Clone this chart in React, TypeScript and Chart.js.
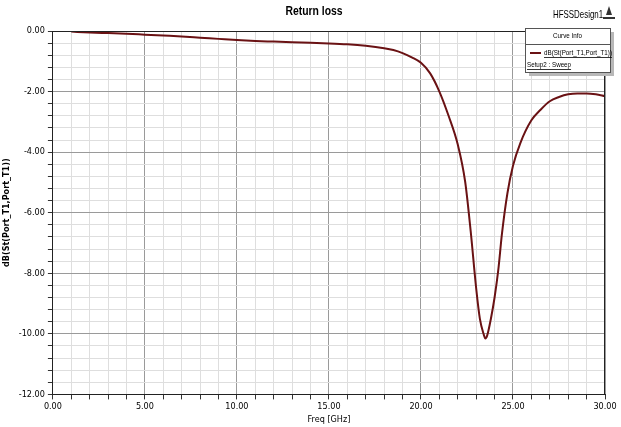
import React, { useEffect, useRef } from "react";
import { Chart, registerables } from "chart.js";

Chart.register(...registerables);

const freqGHz = [1, 2, 3, 4, 5, 6, 7, 8, 9, 10, 11, 12, 13, 14, 15, 16, 17, 18, 18.5, 19, 19.5, 20, 20.5, 21, 21.5, 22, 22.4, 22.7, 23, 23.2, 23.4, 23.5, 23.6, 23.8, 24, 24.2, 24.4, 24.7, 25, 25.4, 26, 26.5, 27, 27.5, 28, 28.5, 29, 29.5, 30];
const returnLossDb = [-0.02, -0.05, -0.07, -0.09, -0.12, -0.15, -0.18, -0.22, -0.26, -0.3, -0.33, -0.35, -0.37, -0.39, -0.41, -0.44, -0.49, -0.57, -0.63, -0.73, -0.87, -1.05, -1.4, -2.0, -2.8, -3.75, -4.97, -6.6, -8.5, -9.5, -10.0, -10.15, -10.05, -9.5, -8.8, -7.9, -6.7, -5.35, -4.45, -3.7, -2.95, -2.6, -2.32, -2.18, -2.09, -2.06, -2.06, -2.09, -2.15];

const chartTitle = "Return loss";
const designName = "HFSSDesign1";
const legendHeader = "Curve Info";
const seriesName = "dB(St(Port_T1,Port_T1))";
const setupName = "Setup2 : Sweep";
const xTitle = "Freq [GHz]";
const yTitle = "dB(St(Port_T1,Port_T1))";

const FONT = "'DejaVu Sans Condensed', 'Liberation Sans Narrow', 'Liberation Sans', Arial, sans-serif";
const OFONT = "'Liberation Sans', Arial, sans-serif";
const LINE_COLOR = "#6a1214";

const isMult = (v: number, m: number) => Math.abs(v / m - Math.round(v / m)) < 1e-6;

function narrowText(ctx: CanvasRenderingContext2D, text: string, x: number, y: number, align: "left" | "center", sx = 0.78) {
  ctx.save();
  ctx.translate(x, y);
  ctx.scale(sx, 1);
  ctx.textAlign = align;
  ctx.fillText(text, 0, 0);
  const w = ctx.measureText(text).width * sx;
  ctx.restore();
  return w;
}

export default function App() {
  const ref = useRef<HTMLCanvasElement | null>(null);

  useEffect(() => {
    document.body.style.margin = "0";
    const canvas = ref.current;
    if (!canvas) return;

    const overlay = {
      id: "overlay",
      afterDraw(chart: any) {
        const { ctx, chartArea } = chart;
        const { left, right, top, bottom } = chartArea;
        ctx.save();
        ctx.strokeStyle = "#222";
        ctx.lineWidth = 1;
        ctx.beginPath();
        ctx.moveTo(left, top + 0.5);
        ctx.lineTo(right, top + 0.5);
        ctx.moveTo(right - 0.5, top);
        ctx.lineTo(right - 0.5, bottom);
        ctx.stroke();

        ctx.fillStyle = "#000";
        ctx.textBaseline = "middle";
        ctx.font = `bold 13px ${OFONT}`;
        narrowText(ctx, chartTitle, 314, 11, "center", 0.8);

        ctx.font = `11px ${OFONT}`;
        narrowText(ctx, designName, 553, 15, "left", 0.72);

        // logo
        ctx.fillStyle = "#333";
        ctx.beginPath();
        ctx.moveTo(609, 6);
        ctx.lineTo(606, 15);
        ctx.lineTo(612, 15);
        ctx.closePath();
        ctx.fill();
        ctx.fillRect(603, 17, 12, 2);

        const bx = 525, by = 28, bw = 85, bh = 44;
        ctx.fillStyle = "#b8b8b8";
        ctx.fillRect(bx + 4, by + 4, bw, bh);
        ctx.fillStyle = "#fff";
        ctx.fillRect(bx, by, bw, bh);
        ctx.strokeStyle = "#555";
        ctx.strokeRect(bx + 0.5, by + 0.5, bw, bh);
        ctx.beginPath();
        ctx.moveTo(bx, by + 16.5);
        ctx.lineTo(bx + bw, by + 16.5);
        ctx.stroke();

        ctx.fillStyle = "#000";
        ctx.font = `8px ${OFONT}`;
        narrowText(ctx, legendHeader, bx + bw / 2, by + 8, "center");

        ctx.strokeStyle = LINE_COLOR;
        ctx.lineWidth = 2;
        ctx.beginPath();
        ctx.moveTo(bx + 5, by + 25);
        ctx.lineTo(bx + 16, by + 25);
        ctx.stroke();

        ctx.fillStyle = "#000";
        const t1x = bx + 19;
        const w1 = narrowText(ctx, seriesName, t1x, by + 25, "left");
        const w2 = narrowText(ctx, setupName, bx + 2, by + 37, "left");
        ctx.strokeStyle = "#000";
        ctx.lineWidth = 0.8;
        ctx.beginPath();
        ctx.moveTo(t1x, by + 29.5);
        ctx.lineTo(t1x + w1, by + 29.5);
        ctx.moveTo(bx + 2, by + 41.5);
        ctx.lineTo(bx + 2 + w2, by + 41.5);
        ctx.stroke();
        ctx.restore();
      },
    };

    const chart = new Chart(canvas, {
      type: "line",
      data: {
        datasets: [
          {
            label: seriesName,
            data: freqGHz.map((f, i) => ({ x: f, y: returnLossDb[i] })),
            borderColor: LINE_COLOR,
            borderWidth: 2,
            pointRadius: 0,
            cubicInterpolationMode: "monotone",
            fill: false,
          },
        ],
      },
      options: {
        animation: false,
        responsive: false,
        maintainAspectRatio: false,
        layout: { padding: { top: 31, right: 16, left: 1, bottom: 2 } },
        plugins: {
          legend: { display: false },
          title: { display: false },
          tooltip: { enabled: false },
        },
        scales: {
          x: {
            type: "linear",
            min: 0,
            max: 30,
            ticks: {
              stepSize: 1,
              autoSkip: false,
              maxRotation: 0,
              padding: 2,
              color: "#000",
              font: { family: FONT, size: 9 },
              callback: (v: any) => (isMult(Number(v), 5) ? Number(v).toFixed(2) : ""),
            },
            grid: {
              color: (c: any) => (isMult(c.tick.value, 5) ? "#9a9a9a" : "#dedede"),
              tickColor: "#333",
              tickLength: 5,
              lineWidth: 1,
            },
            border: { color: "#222", width: 1 },
            title: {
              display: true,
              text: xTitle,
              color: "#000",
              font: { family: FONT, size: 9 },
              padding: { top: 0, bottom: 0 },
            },
          },
          y: {
            type: "linear",
            min: -12,
            max: 0,
            ticks: {
              stepSize: 0.4,
              autoSkip: false,
              padding: 3,
              color: "#000",
              font: { family: FONT, size: 9 },
              callback: (v: any) => (isMult(Number(v), 2) ? Number(v).toFixed(2) : ""),
            },
            grid: {
              color: (c: any) => (isMult(c.tick.value, 2) ? "#9a9a9a" : "#dedede"),
              tickColor: "#333",
              tickLength: 5,
              lineWidth: 1,
            },
            border: { color: "#222", width: 1 },
            title: {
              display: true,
              text: yTitle,
              color: "#000",
              font: { family: FONT, size: 9, weight: "bold" },
              padding: { top: 0, bottom: 4 },
            },
          },
        },
      },
      plugins: [overlay],
    } as any);

    return () => chart.destroy();
  }, []);

  return (
    <div style={{ width: 621, height: 427, background: "#fff" }}>
      <canvas ref={ref} width={621} height={427} style={{ display: "block" }} />
    </div>
  );
}
